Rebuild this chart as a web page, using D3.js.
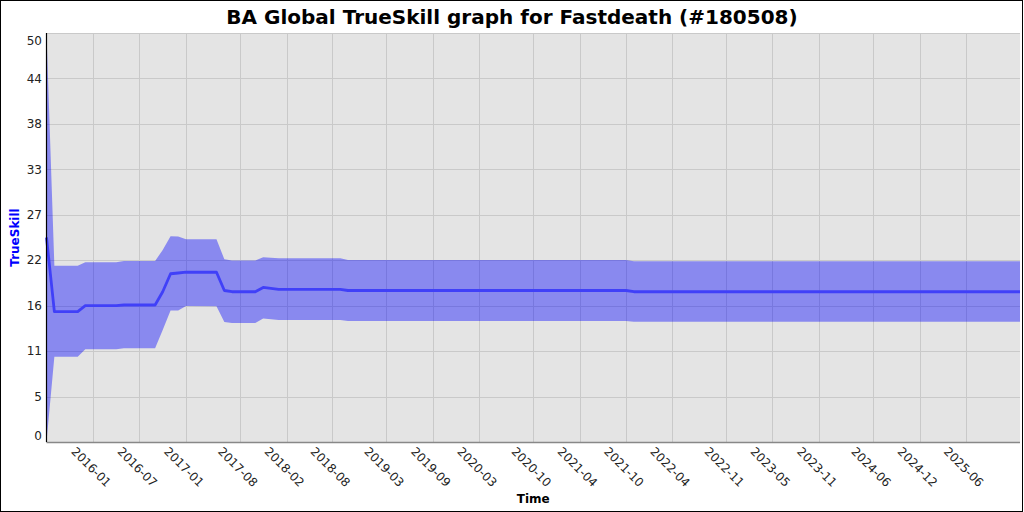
<!DOCTYPE html>
<html>
<head>
<meta charset="utf-8">
<script src="https://cdnjs.cloudflare.com/ajax/libs/d3/7.8.5/d3.min.js"></script>
<style>
    body { margin: 0; background: #fff; }
    svg { display: block; font-family: "DejaVu Sans", sans-serif; }
</style>
</head>
<body>
<svg id="chart" width="1024" height="512"></svg>
<script>
// points where the rating changes (linear between them)
var dates = ["2015-07-01", "2015-08-01", "2015-11-01", "2015-12-01", "2016-04-01",
	     "2016-05-01", "2016-09-01", "2016-10-01", "2016-11-01", "2016-12-01",
	     "2017-01-01", "2017-05-01", "2017-06-01", "2017-07-01", "2017-10-01",
	     "2017-11-01", "2018-01-01", "2018-09-01", "2018-10-01", "2021-10-01",
	     "2021-11-01", "2026-01-01"];
var mean = [25.0, 15.93, 15.93, 16.66, 16.66,
	    16.75, 16.75, 18.37, 20.57, 20.66,
	    20.76, 20.75, 18.52, 18.37, 18.37,
	    18.89, 18.67, 18.67, 18.52, 18.52,
	    18.37, 18.37];
var upper = [50.0, 21.55, 21.55, 21.97, 21.97,
	     22.13, 22.13, 23.47, 25.15, 25.12,
	     24.79, 24.79, 22.33, 22.19, 22.19,
	     22.58, 22.46, 22.46, 22.25, 22.25,
	     22.09, 22.09];
var lower = [0.0, 10.43, 10.43, 11.33, 11.33,
	     11.45, 11.45, 13.70, 16.08, 16.08,
	     16.63, 16.59, 14.67, 14.55, 14.55,
	     15.10, 14.91, 14.91, 14.79, 14.79,
	     14.71, 14.71];

var xTickDates = ["2016-01-01", "2016-07-01", "2017-01-01", "2017-08-01", "2018-02-01",
		  "2018-08-01", "2019-03-01", "2019-09-01", "2020-03-01", "2020-10-01",
		  "2021-04-01", "2021-10-01", "2022-04-01", "2022-11-01", "2023-05-01",
		  "2023-11-01", "2024-06-01", "2024-12-01", "2025-06-01"];
var yTickLabels = ["0", "5", "11", "16", "22", "27", "33", "38", "44", "50"];

var title = "BA Global TrueSkill graph for Fastdeath (#180508)";

var parse = d3.utcParse("%Y-%m-%d");
var fmt = d3.utcFormat("%Y-%m");

var plotLeft = 46.5, plotRight = 1020, plotTop = 33, plotBottom = 442;

var svg = d3.select("#chart");

var points = dates.map(function(d, i) {
    return {date: parse(d), mean: mean[i], upper: upper[i], lower: lower[i]};
});

var x = d3.scaleUtc()
    .domain(d3.extent(points, function(d) { return d.date; }))
    .range([plotLeft, plotRight]);
var y = d3.scaleLinear().domain([0, 50]).range([plotBottom, plotTop]);

var yTicks = yTickLabels.map(function(l, i) { return i * 50 / 9; });
var xTicks = xTickDates.map(function(d) { return parse(d); });

// frame
svg.append("rect")
    .attr("x", 0.5).attr("y", 0.5)
    .attr("width", 1022).attr("height", 511)
    .attr("fill", "#fff").attr("stroke", "#000");

// plot background
svg.append("rect")
    .attr("x", plotLeft).attr("y", plotTop)
    .attr("width", plotRight - plotLeft).attr("height", plotBottom - plotTop)
    .attr("fill", "#e4e4e4");

var grid = svg.append("g").attr("stroke", "#c9c9c9").attr("stroke-width", 1);
grid.selectAll(".hgrid").data(yTicks)
    .enter().append("line")
    .attr("class", "hgrid")
    .attr("x1", plotLeft).attr("x2", plotRight)
    .attr("y1", function(d) { return Math.round(y(d)) + 0.5; })
    .attr("y2", function(d) { return Math.round(y(d)) + 0.5; });
grid.selectAll(".vgrid").data(xTicks)
    .enter().append("line")
    .attr("class", "vgrid")
    .attr("x1", function(d) { return Math.round(x(d)) + 0.5; })
    .attr("x2", function(d) { return Math.round(x(d)) + 0.5; })
    .attr("y1", plotTop).attr("y2", plotBottom);

// mean +/- 3 sigma band
var area = d3.area()
    .x(function(d) { return x(d.date); })
    .y0(function(d) { return y(d.lower); })
    .y1(function(d) { return y(d.upper); });
svg.append("path")
    .datum(points)
    .attr("d", area)
    .attr("fill", "#0000ff")
    .attr("fill-opacity", 0.4);

var line = d3.line()
    .x(function(d) { return x(d.date); })
    .y(function(d) { return y(d.mean); });
svg.append("path")
    .datum(points)
    .attr("d", line)
    .attr("fill", "none")
    .attr("stroke", "#4040f8")
    .attr("stroke-width", 2.8)
    .attr("stroke-linejoin", "round");

// axes
svg.append("line")
    .attr("x1", plotLeft).attr("x2", plotRight)
    .attr("y1", plotBottom + 0.5).attr("y2", plotBottom + 0.5)
    .attr("stroke", "#888").attr("stroke-width", 1.5);
svg.append("line")
    .attr("x1", plotLeft).attr("x2", plotLeft)
    .attr("y1", plotTop).attr("y2", plotBottom)
    .attr("stroke", "#000").attr("stroke-width", 1.2);

svg.selectAll(".ylab").data(yTicks)
    .enter().append("text")
    .attr("class", "ylab")
    .attr("x", 42)
    .attr("y", function(d) { return Math.min(Math.max(y(d), plotTop + 8), plotBottom - 6); })
    .attr("dy", "0.35em")
    .attr("text-anchor", "end")
    .attr("font-size", 12)
    .attr("fill", "#222")
    .text(function(d, i) { return yTickLabels[i]; });

svg.selectAll(".xlab").data(xTicks)
    .enter().append("text")
    .attr("class", "xlab")
    .attr("transform", function(d) { return "translate(" + (x(d) - 2) + ",467) rotate(45)"; })
    .attr("dy", "0.35em")
    .attr("text-anchor", "middle")
    .attr("font-size", 12)
    .attr("fill", "#222")
    .text(function(d) { return fmt(d); });

svg.append("text")
    .attr("x", (plotLeft + plotRight) / 2).attr("y", 503)
    .attr("text-anchor", "middle")
    .attr("font-size", 12).attr("font-weight", "bold")
    .text("Time");

svg.append("text")
    .attr("transform", "translate(19," + ((plotTop + plotBottom) / 2) + ") rotate(-90)")
    .attr("text-anchor", "middle")
    .attr("font-size", 12).attr("font-weight", "bold")
    .attr("fill", "#0000ff")
    .text("TrueSkill");

svg.append("text")
    .attr("x", 512).attr("y", 24)
    .attr("text-anchor", "middle")
    .attr("font-size", 20).attr("font-weight", "bold")
    .text(title);
</script>
</body>
</html>
